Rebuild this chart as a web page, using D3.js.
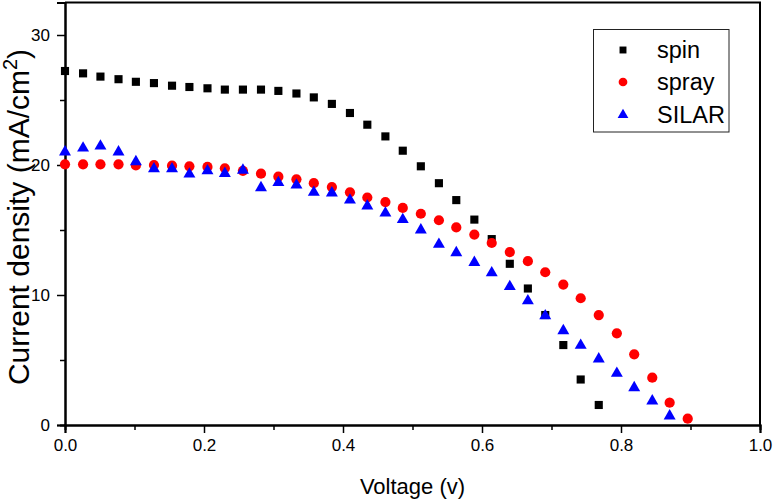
<!DOCTYPE html>
<html>
<head>
<meta charset="utf-8">
<script src="https://cdn.jsdelivr.net/npm/d3@7"></script>
<style>
  html, body { margin: 0; padding: 0; background: #fff; }
  svg { display: block; }
  text { font-family: "Liberation Sans", Arial, sans-serif; fill: #000; }
</style>
</head>
<body>
<svg id="chart" width="774" height="502"></svg>
<script>
// ---- data ----
const voltage = [0.000, 0.026, 0.051, 0.077, 0.102, 0.128, 0.154, 0.179, 0.205, 0.230,
                 0.256, 0.282, 0.307, 0.333, 0.358, 0.384, 0.410, 0.435, 0.461, 0.486,
                 0.512, 0.538, 0.563, 0.589, 0.614, 0.640, 0.666, 0.691, 0.717, 0.742,
                 0.768, 0.794, 0.819, 0.845, 0.870, 0.896];
const spin = [27.23, 27.05, 26.8, 26.6, 26.4, 26.3, 26.1, 26.0, 25.9, 25.8,
              25.8, 25.8, 25.7, 25.5, 25.2, 24.7, 24.0, 23.1, 22.2, 21.1,
              19.9, 18.6, 17.3, 15.8, 14.3, 12.4, 10.5, 8.46, 6.15, 3.5, 1.54];
const spray = [20.05, 20.05, 20.05, 20.05, 19.97, 20.0, 19.95, 19.9, 19.85, 19.75,
               19.55, 19.33, 19.1, 18.9, 18.6, 18.3, 17.9, 17.5, 17.15, 16.7,
               16.25, 15.75, 15.2, 14.65, 14.0, 13.3, 12.6, 11.75, 10.8, 9.75,
               8.46, 7.05, 5.44, 3.64, 1.72, 0.49];
const silar = [21.0, 21.3, 21.45, 21.0, 20.25, 19.7, 19.7, 19.3, 19.55, 19.35,
               19.6, 18.25, 18.65, 18.45, 17.9, 17.85, 17.3, 16.85, 16.3, 15.8,
               15.0, 13.9, 13.25, 12.5, 11.7, 10.65, 9.55, 8.4, 7.25, 6.13,
               5.08, 3.97, 2.87, 1.85, 0.69];
const seriesNames = ["spin", "spray", "SILAR"];
const seriesColors = ["#000000", "#ff0000", "#0000ff"];
const xTicks = [0, 0.2, 0.4, 0.6, 0.8, 1.0];
const xMinorTicks = [0.1, 0.3, 0.5, 0.7, 0.9];
const yTicks = [0, 10, 20, 30];
const yMinorTicks = [5, 15, 25];

// ---- layout ----
const svg = d3.select("#chart");
const L = 65, R = 760, T = 2.5, B = 425;
const x = d3.scaleLinear().domain([0, 1]).range([L, R]);
const y = d3.scaleLinear().domain([0, 32.5]).range([B, T]);

// frame (top/right)
svg.append("path")
  .attr("d", `M${L},${T}H${R}V${B}`)
  .attr("fill", "none").attr("stroke", "#000").attr("stroke-width", 2);

// axes
const xAxis = svg.append("g").attr("transform", `translate(0,${B})`)
  .call(d3.axisBottom(x).tickValues(xTicks).tickFormat(d3.format(".1f")).tickSize(8).tickPadding(6));
const xMinor = svg.append("g").attr("transform", `translate(0,${B})`)
  .call(d3.axisBottom(x).tickValues(xMinorTicks).tickFormat("").tickSize(5));
const yAxis = svg.append("g").attr("transform", `translate(${L},0)`)
  .call(d3.axisLeft(y).tickValues(yTicks).tickFormat(d3.format("d")).tickSize(8).tickPadding(7));
const yMinor = svg.append("g").attr("transform", `translate(${L},0)`)
  .call(d3.axisLeft(y).tickValues(yMinorTicks).tickFormat("").tickSize(5));

[xAxis, xMinor, yAxis, yMinor].forEach(g => {
  g.select(".domain").attr("stroke", "#000").attr("stroke-width", 2);
  g.selectAll(".tick line").attr("stroke", "#000").attr("stroke-width", 1.5);
  g.selectAll(".tick text").attr("font-size", 17).attr("fill", "#000")
    .attr("font-family", "'Liberation Sans', Arial, sans-serif");
});

// axis titles
svg.append("text")
  .attr("x", (L + R) / 2 + 0).attr("y", 494)
  .attr("text-anchor", "middle").attr("font-size", 22)
  .text("Voltage (v)");

const yt = svg.append("text")
  .attr("transform", `translate(29,${217}) rotate(-90)`)
  .attr("text-anchor", "middle").attr("font-size", 30);
yt.append("tspan").text("Current density (mA/cm");
yt.append("tspan").attr("font-size", 20).attr("dy", -12).text("2");
yt.append("tspan").attr("dy", 12).text(")");

// markers
const symbols = [d3.symbolSquare, d3.symbolCircle, d3.symbolTriangle];
const sizes = [66, 82, 62];
const data = [spin, spray, silar];
const plot = svg.append("g");
data.forEach((vals, si) => {
  plot.append("g").selectAll("path")
    .data(vals.map((v, i) => [voltage[i], v]))
    .join("path")
    .attr("transform", d => `translate(${x(d[0])},${y(d[1])})`)
    .attr("d", d3.symbol().type(symbols[si]).size(sizes[si]))
    .attr("fill", seriesColors[si]);
});

// legend
const lg = svg.append("g");
lg.append("rect").attr("x", 593.5).attr("y", 29.5).attr("width", 135.5).attr("height", 102.5)
  .attr("fill", "#fff").attr("stroke", "#222").attr("stroke-width", 1);
const rowsY = [50, 82, 115];
const legSizes = [48, 60, 50];
seriesNames.forEach((n, i) => {
  lg.append("path")
    .attr("transform", `translate(623,${rowsY[i]})`)
    .attr("d", d3.symbol().type(symbols[i]).size(legSizes[i]))
    .attr("fill", seriesColors[i]);
  lg.append("text").attr("x", 657).attr("y", rowsY[i] + 8)
    .attr("font-size", 23.5).text(n);
});
</script>
</body>
</html>
